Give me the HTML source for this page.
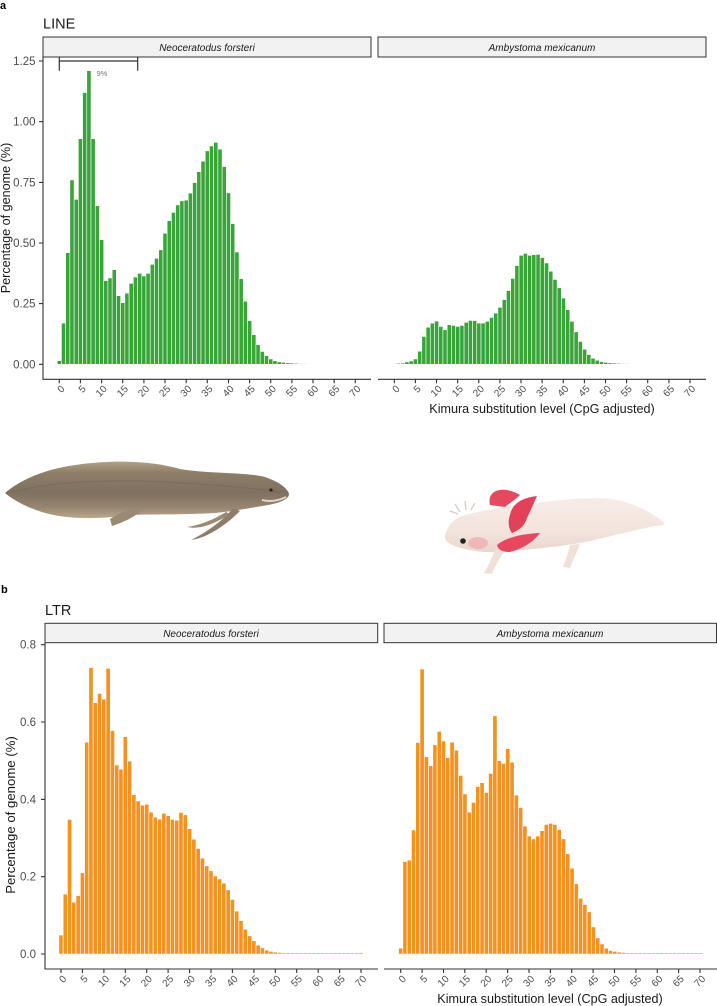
<!DOCTYPE html>
<html><head><meta charset="utf-8"><style>
html,body{margin:0;padding:0;background:#fff;}
body{width:717px;height:1006px;overflow:hidden;}
svg{display:block;font-family:"Liberation Sans",Arial,sans-serif;}
.g rect{fill:#38a538;stroke:#fff;stroke-width:0.6;}
.o rect{fill:#f5921f;stroke:#fff;stroke-width:0.6;}
.tl{font-size:10px;fill:#4d4d4d;text-anchor:end;}
.yl{font-size:11.5px;fill:#4d4d4d;text-anchor:end;}
.ax{stroke:#333;stroke-width:1.1;fill:none;}
.st{fill:#f2f2f2;stroke:#333;stroke-width:1;}
.sx{font-size:10px;font-style:italic;fill:#1a1a1a;text-anchor:middle;}
</style></head><body>
<svg width="717" height="1006" viewBox="0 0 717 1006" xmlns="http://www.w3.org/2000/svg">
<defs>
<linearGradient id="fishg" x1="0" y1="0" x2="0" y2="1">
<stop offset="0" stop-color="#b09f84"/><stop offset="0.2" stop-color="#8e7e69"/><stop offset="0.55" stop-color="#7f7160"/><stop offset="0.8" stop-color="#958470"/><stop offset="1" stop-color="#b9a88b"/>
</linearGradient>
<linearGradient id="axg" x1="0" y1="0" x2="0" y2="1">
<stop offset="0" stop-color="#f6ece7"/><stop offset="0.6" stop-color="#f3e4dd"/><stop offset="1" stop-color="#e9d6cd"/>
</linearGradient>
</defs>

<!-- ===== Panel a ===== -->
<text x="0" y="9" font-size="11" font-weight="bold" fill="#000">a</text>
<text x="43" y="28.3" font-size="14.5" fill="#1a1a1a">LINE</text>

<rect class="st" x="43" y="37" width="328" height="20"/>
<text class="sx" x="207" y="51">Neoceratodus forsteri</text>
<rect class="st" x="378" y="37" width="328" height="20"/>
<text class="sx" x="542" y="51">Ambystoma mexicanum</text>

<!-- y axis top -->
<path class="ax" d="M43,57V379.3H371M378,379.3H706"/>
<path class="ax" d="M39,364.3H43M39,303.6H43M39,243H43M39,182.4H43M39,121.7H43M39,61H43"/>
<g class="yl">
<text x="35.5" y="368.3">0.00</text>
<text x="35.5" y="307.6">0.25</text>
<text x="35.5" y="247">0.50</text>
<text x="35.5" y="186.4">0.75</text>
<text x="35.5" y="125.7">1.00</text>
<text x="35.5" y="65">1.25</text>
</g>
<text transform="translate(10,218) rotate(-90)" font-size="12.6" fill="#1a1a1a" text-anchor="middle">Percentage of genome (%)</text>

<!-- scale bar -->
<path d="M59.3,61H137.7M59.3,57V70.7M137.7,57V70.7" stroke="#333" stroke-width="1.2" fill="none"/>
<text x="96.5" y="76" font-size="7.5" fill="#777">9%</text>

<!-- LINE N bars -->
<g class="g" transform="translate(57.19,364.3) scale(4.229,-242.6)">
<g style="vector-effect:non-scaling-stroke">
<rect x="0" width="1" height="0.015" vector-effect="non-scaling-stroke"/>
<rect x="1" width="1" height="0.17" vector-effect="non-scaling-stroke"/>
<rect x="2" width="1" height="0.46" vector-effect="non-scaling-stroke"/>
<rect x="3" width="1" height="0.76" vector-effect="non-scaling-stroke"/>
<rect x="4" width="1" height="0.68" vector-effect="non-scaling-stroke"/>
<rect x="5" width="1" height="0.93" vector-effect="non-scaling-stroke"/>
<rect x="6" width="1" height="1.12" vector-effect="non-scaling-stroke"/>
<rect x="7" width="1" height="1.21" vector-effect="non-scaling-stroke"/>
<rect x="8" width="1" height="0.93" vector-effect="non-scaling-stroke"/>
<rect x="9" width="1" height="0.654" vector-effect="non-scaling-stroke"/>
<rect x="10" width="1" height="0.514" vector-effect="non-scaling-stroke"/>
<rect x="11" width="1" height="0.345" vector-effect="non-scaling-stroke"/>
<rect x="12" width="1" height="0.356" vector-effect="non-scaling-stroke"/>
<rect x="13" width="1" height="0.39" vector-effect="non-scaling-stroke"/>
<rect x="14" width="1" height="0.283" vector-effect="non-scaling-stroke"/>
<rect x="15" width="1" height="0.254" vector-effect="non-scaling-stroke"/>
<rect x="16" width="1" height="0.293" vector-effect="non-scaling-stroke"/>
<rect x="17" width="1" height="0.334" vector-effect="non-scaling-stroke"/>
<rect x="18" width="1" height="0.36" vector-effect="non-scaling-stroke"/>
<rect x="19" width="1" height="0.375" vector-effect="non-scaling-stroke"/>
<rect x="20" width="1" height="0.364" vector-effect="non-scaling-stroke"/>
<rect x="21" width="1" height="0.375" vector-effect="non-scaling-stroke"/>
<rect x="22" width="1" height="0.412" vector-effect="non-scaling-stroke"/>
<rect x="23" width="1" height="0.437" vector-effect="non-scaling-stroke"/>
<rect x="24" width="1" height="0.472" vector-effect="non-scaling-stroke"/>
<rect x="25" width="1" height="0.54" vector-effect="non-scaling-stroke"/>
<rect x="26" width="1" height="0.592" vector-effect="non-scaling-stroke"/>
<rect x="27" width="1" height="0.626" vector-effect="non-scaling-stroke"/>
<rect x="28" width="1" height="0.657" vector-effect="non-scaling-stroke"/>
<rect x="29" width="1" height="0.674" vector-effect="non-scaling-stroke"/>
<rect x="30" width="1" height="0.677" vector-effect="non-scaling-stroke"/>
<rect x="31" width="1" height="0.706" vector-effect="non-scaling-stroke"/>
<rect x="32" width="1" height="0.749" vector-effect="non-scaling-stroke"/>
<rect x="33" width="1" height="0.794" vector-effect="non-scaling-stroke"/>
<rect x="34" width="1" height="0.837" vector-effect="non-scaling-stroke"/>
<rect x="35" width="1" height="0.88" vector-effect="non-scaling-stroke"/>
<rect x="36" width="1" height="0.90" vector-effect="non-scaling-stroke"/>
<rect x="37" width="1" height="0.915" vector-effect="non-scaling-stroke"/>
<rect x="38" width="1" height="0.887" vector-effect="non-scaling-stroke"/>
<rect x="39" width="1" height="0.815" vector-effect="non-scaling-stroke"/>
<rect x="40" width="1" height="0.707" vector-effect="non-scaling-stroke"/>
<rect x="41" width="1" height="0.58" vector-effect="non-scaling-stroke"/>
<rect x="42" width="1" height="0.463" vector-effect="non-scaling-stroke"/>
<rect x="43" width="1" height="0.353" vector-effect="non-scaling-stroke"/>
<rect x="44" width="1" height="0.26" vector-effect="non-scaling-stroke"/>
<rect x="45" width="1" height="0.18" vector-effect="non-scaling-stroke"/>
<rect x="46" width="1" height="0.122" vector-effect="non-scaling-stroke"/>
<rect x="47" width="1" height="0.081" vector-effect="non-scaling-stroke"/>
<rect x="48" width="1" height="0.053" vector-effect="non-scaling-stroke"/>
<rect x="49" width="1" height="0.036" vector-effect="non-scaling-stroke"/>
<rect x="50" width="1" height="0.022" vector-effect="non-scaling-stroke"/>
<rect x="51" width="1" height="0.015" vector-effect="non-scaling-stroke"/>
<rect x="52" width="1" height="0.010" vector-effect="non-scaling-stroke"/>
<rect x="53" width="1" height="0.008" vector-effect="non-scaling-stroke"/>
<rect x="54" width="1" height="0.006" vector-effect="non-scaling-stroke"/>
<rect x="55" width="1" height="0.005" vector-effect="non-scaling-stroke"/>
<rect x="56" width="1" height="0.004" vector-effect="non-scaling-stroke"/>
<rect x="57" width="1" height="0.003" vector-effect="non-scaling-stroke"/>
<rect x="58" width="1" height="0.003" vector-effect="non-scaling-stroke"/>
<rect x="59" width="1" height="0.002" vector-effect="non-scaling-stroke"/>
<rect x="60" width="1" height="0.002" vector-effect="non-scaling-stroke"/>
<rect x="61" width="1" height="0.002" vector-effect="non-scaling-stroke"/>
<rect x="62" width="1" height="0.002" vector-effect="non-scaling-stroke"/>
</g>
</g>

<!-- LINE A bars -->
<g class="g" transform="translate(392.19,364.3) scale(4.229,-242.6)">
<rect x="0" width="1" height="0.003" vector-effect="non-scaling-stroke"/>
<rect x="1" width="1" height="0.004" vector-effect="non-scaling-stroke"/>
<rect x="2" width="1" height="0.005" vector-effect="non-scaling-stroke"/>
<rect x="3" width="1" height="0.010" vector-effect="non-scaling-stroke"/>
<rect x="4" width="1" height="0.014" vector-effect="non-scaling-stroke"/>
<rect x="5" width="1" height="0.022" vector-effect="non-scaling-stroke"/>
<rect x="6" width="1" height="0.054" vector-effect="non-scaling-stroke"/>
<rect x="7" width="1" height="0.115" vector-effect="non-scaling-stroke"/>
<rect x="8" width="1" height="0.153" vector-effect="non-scaling-stroke"/>
<rect x="9" width="1" height="0.17" vector-effect="non-scaling-stroke"/>
<rect x="10" width="1" height="0.178" vector-effect="non-scaling-stroke"/>
<rect x="11" width="1" height="0.156" vector-effect="non-scaling-stroke"/>
<rect x="12" width="1" height="0.142" vector-effect="non-scaling-stroke"/>
<rect x="13" width="1" height="0.163" vector-effect="non-scaling-stroke"/>
<rect x="14" width="1" height="0.16" vector-effect="non-scaling-stroke"/>
<rect x="15" width="1" height="0.156" vector-effect="non-scaling-stroke"/>
<rect x="16" width="1" height="0.16" vector-effect="non-scaling-stroke"/>
<rect x="17" width="1" height="0.173" vector-effect="non-scaling-stroke"/>
<rect x="18" width="1" height="0.181" vector-effect="non-scaling-stroke"/>
<rect x="19" width="1" height="0.18" vector-effect="non-scaling-stroke"/>
<rect x="20" width="1" height="0.17" vector-effect="non-scaling-stroke"/>
<rect x="21" width="1" height="0.17" vector-effect="non-scaling-stroke"/>
<rect x="22" width="1" height="0.177" vector-effect="non-scaling-stroke"/>
<rect x="23" width="1" height="0.193" vector-effect="non-scaling-stroke"/>
<rect x="24" width="1" height="0.211" vector-effect="non-scaling-stroke"/>
<rect x="25" width="1" height="0.235" vector-effect="non-scaling-stroke"/>
<rect x="26" width="1" height="0.267" vector-effect="non-scaling-stroke"/>
<rect x="27" width="1" height="0.304" vector-effect="non-scaling-stroke"/>
<rect x="28" width="1" height="0.354" vector-effect="non-scaling-stroke"/>
<rect x="29" width="1" height="0.407" vector-effect="non-scaling-stroke"/>
<rect x="30" width="1" height="0.449" vector-effect="non-scaling-stroke"/>
<rect x="31" width="1" height="0.457" vector-effect="non-scaling-stroke"/>
<rect x="32" width="1" height="0.449" vector-effect="non-scaling-stroke"/>
<rect x="33" width="1" height="0.452" vector-effect="non-scaling-stroke"/>
<rect x="34" width="1" height="0.453" vector-effect="non-scaling-stroke"/>
<rect x="35" width="1" height="0.44" vector-effect="non-scaling-stroke"/>
<rect x="36" width="1" height="0.418" vector-effect="non-scaling-stroke"/>
<rect x="37" width="1" height="0.384" vector-effect="non-scaling-stroke"/>
<rect x="38" width="1" height="0.35" vector-effect="non-scaling-stroke"/>
<rect x="39" width="1" height="0.315" vector-effect="non-scaling-stroke"/>
<rect x="40" width="1" height="0.273" vector-effect="non-scaling-stroke"/>
<rect x="41" width="1" height="0.225" vector-effect="non-scaling-stroke"/>
<rect x="42" width="1" height="0.177" vector-effect="non-scaling-stroke"/>
<rect x="43" width="1" height="0.134" vector-effect="non-scaling-stroke"/>
<rect x="44" width="1" height="0.094" vector-effect="non-scaling-stroke"/>
<rect x="45" width="1" height="0.062" vector-effect="non-scaling-stroke"/>
<rect x="46" width="1" height="0.040" vector-effect="non-scaling-stroke"/>
<rect x="47" width="1" height="0.025" vector-effect="non-scaling-stroke"/>
<rect x="48" width="1" height="0.017" vector-effect="non-scaling-stroke"/>
<rect x="49" width="1" height="0.011" vector-effect="non-scaling-stroke"/>
<rect x="50" width="1" height="0.008" vector-effect="non-scaling-stroke"/>
<rect x="51" width="1" height="0.006" vector-effect="non-scaling-stroke"/>
<rect x="52" width="1" height="0.005" vector-effect="non-scaling-stroke"/>
<rect x="53" width="1" height="0.004" vector-effect="non-scaling-stroke"/>
<rect x="54" width="1" height="0.003" vector-effect="non-scaling-stroke"/>
<rect x="55" width="1" height="0.003" vector-effect="non-scaling-stroke"/>
<rect x="56" width="1" height="0.002" vector-effect="non-scaling-stroke"/>
</g>

<!-- top x ticks -->
<path class="ax" d="M59.3,379.3v4M80.4,379.3v4M101.6,379.3v4M122.7,379.3v4M143.9,379.3v4M165,379.3v4M186.2,379.3v4M207.3,379.3v4M228.5,379.3v4M249.6,379.3v4M270.7,379.3v4M291.9,379.3v4M313,379.3v4M334.2,379.3v4M355.3,379.3v4
M394.3,379.3v4M415.4,379.3v4M436.5,379.3v4M457.7,379.3v4M478.8,379.3v4M499.9,379.3v4M521,379.3v4M542.1,379.3v4M563.3,379.3v4M584.4,379.3v4M605.5,379.3v4M626.6,379.3v4M647.7,379.3v4M668.9,379.3v4M690,379.3v4"/>
<g class="tl">
<text transform="translate(65.3,389.5) rotate(-45)">0</text>
<text transform="translate(86.4,389.5) rotate(-45)">5</text>
<text transform="translate(107.6,389.5) rotate(-45)">10</text>
<text transform="translate(128.7,389.5) rotate(-45)">15</text>
<text transform="translate(149.9,389.5) rotate(-45)">20</text>
<text transform="translate(171,389.5) rotate(-45)">25</text>
<text transform="translate(192.2,389.5) rotate(-45)">30</text>
<text transform="translate(213.3,389.5) rotate(-45)">35</text>
<text transform="translate(234.5,389.5) rotate(-45)">40</text>
<text transform="translate(255.6,389.5) rotate(-45)">45</text>
<text transform="translate(276.7,389.5) rotate(-45)">50</text>
<text transform="translate(297.9,389.5) rotate(-45)">55</text>
<text transform="translate(319,389.5) rotate(-45)">60</text>
<text transform="translate(340.2,389.5) rotate(-45)">65</text>
<text transform="translate(361.3,389.5) rotate(-45)">70</text>
<text transform="translate(400.3,389.5) rotate(-45)">0</text>
<text transform="translate(421.4,389.5) rotate(-45)">5</text>
<text transform="translate(442.5,389.5) rotate(-45)">10</text>
<text transform="translate(463.7,389.5) rotate(-45)">15</text>
<text transform="translate(484.8,389.5) rotate(-45)">20</text>
<text transform="translate(505.9,389.5) rotate(-45)">25</text>
<text transform="translate(527,389.5) rotate(-45)">30</text>
<text transform="translate(548.1,389.5) rotate(-45)">35</text>
<text transform="translate(569.3,389.5) rotate(-45)">40</text>
<text transform="translate(590.4,389.5) rotate(-45)">45</text>
<text transform="translate(611.5,389.5) rotate(-45)">50</text>
<text transform="translate(632.6,389.5) rotate(-45)">55</text>
<text transform="translate(653.7,389.5) rotate(-45)">60</text>
<text transform="translate(674.9,389.5) rotate(-45)">65</text>
<text transform="translate(696,389.5) rotate(-45)">70</text>
</g>
<text x="542" y="413" font-size="12.6" fill="#1a1a1a" text-anchor="middle">Kimura substitution level (CpG adjusted)</text>

<!-- Lungfish -->
<g>
<path d="M5,493 C20,480 45,469 75,465 C110,460 150,460 180,469 C210,474 245,472 265,477 C280,482 288,489 289,494 C289,499 280,503 268,505 C250,508 235,511 215,513 C180,515 150,514 130,515 C105,519 70,520 45,513 C25,507 12,499 5,493 Z" fill="url(#fishg)"/>
<path d="M12,492 C40,484 90,480 140,481 C190,483 240,486 280,492" stroke="#6f6253" stroke-width="1" fill="none" opacity="0.5"/>
<path d="M110,519 C120,512 132,508 143,509 C136,516 125,522 112,526 Z" fill="#9a8a74"/>
<path d="M233,508 C224,520 207,532 191,540 C206,538 224,527 240,511 Z" fill="#8d7d69"/>
<path d="M226,512 C213,520 200,525 187,527 C201,530 216,523 230,514 Z" fill="#9b8b75"/>
<path d="M262,500 C270,502 278,501 286,497" stroke="#e0d6c6" stroke-width="2" fill="none"/>
<circle cx="271" cy="490" r="1.6" fill="#2a241e"/>
</g>

<!-- Axolotl -->
<g>
<path d="M445,537 C446,528 452,520 462,516 C475,512 495,508 520,505 C550,501 575,498 600,498 C625,499 645,508 662,521 C666,524 664,526 655,526 C635,530 615,535 590,541 C565,546 545,548 520,550 C500,553 480,553 465,549 C452,546 445,542 445,537 Z" fill="url(#axg)"/>
<path d="M495,550 C492,558 488,566 484,573 L492,574 C495,566 500,558 505,550 Z" fill="#efe0d9"/>
<path d="M570,545 C568,553 566,560 563,567 L570,568 C573,560 577,552 580,544 Z" fill="#efe0d9"/>
<path d="M460,512 L455,504 M466,510 L465,501 M471,510 L475,503 M458,514 L450,511" stroke="#d9ccc6" stroke-width="1.3"/>
<ellipse cx="478" cy="543" rx="10" ry="6" fill="#f0a0a5" opacity="0.6"/>
<path d="M490,505 C488,497 492,491 500,490 C508,489 515,492 520,495 C516,499 510,503 505,507 Z" fill="#e6485f"/>
<path d="M510,515 C512,505 520,498 537,496 C533,505 530,512 527,518 C525,525 520,530 512,533 C508,528 508,520 510,515 Z" fill="#e4405a"/>
<path d="M497,545 C505,538 520,534 540,533 C535,540 525,548 510,552 C503,552 498,550 497,545 Z" fill="#e8485f"/>
<circle cx="463" cy="541" r="2.8" fill="#222"/>
</g>

<!-- ===== Panel b ===== -->
<text x="1" y="593" font-size="11" font-weight="bold" fill="#000">b</text>
<text x="45" y="615" font-size="14.5" fill="#1a1a1a">LTR</text>

<rect class="st" x="45" y="623.3" width="332.7" height="19.4"/>
<text class="sx" x="211" y="637">Neoceratodus forsteri</text>
<rect class="st" x="384" y="623.3" width="332.5" height="19.4"/>
<text class="sx" x="550" y="637">Ambystoma mexicanum</text>

<path class="ax" d="M45,642.7V969H378M384,969H717"/>
<path class="ax" d="M41,954H45M41,876.7H45M41,799.4H45M41,722H45M41,644.7H45"/>
<g class="yl">
<text x="36" y="958">0.0</text>
<text x="36" y="880.7">0.2</text>
<text x="36" y="803.4">0.4</text>
<text x="36" y="726">0.6</text>
<text x="36" y="648.7">0.8</text>
</g>
<text transform="translate(15,815) rotate(-90)" font-size="13.2" fill="#1a1a1a" text-anchor="middle">Percentage of genome (%)</text>

<!-- LTR N bars -->
<g class="o" transform="translate(58.86,954) scale(4.286,-386.6)">
<rect x="0" width="1" height="0.049" vector-effect="non-scaling-stroke"/>
<rect x="1" width="1" height="0.155" vector-effect="non-scaling-stroke"/>
<rect x="2" width="1" height="0.348" vector-effect="non-scaling-stroke"/>
<rect x="3" width="1" height="0.134" vector-effect="non-scaling-stroke"/>
<rect x="4" width="1" height="0.151" vector-effect="non-scaling-stroke"/>
<rect x="5" width="1" height="0.21" vector-effect="non-scaling-stroke"/>
<rect x="6" width="1" height="0.548" vector-effect="non-scaling-stroke"/>
<rect x="7" width="1" height="0.741" vector-effect="non-scaling-stroke"/>
<rect x="8" width="1" height="0.65" vector-effect="non-scaling-stroke"/>
<rect x="9" width="1" height="0.674" vector-effect="non-scaling-stroke"/>
<rect x="10" width="1" height="0.659" vector-effect="non-scaling-stroke"/>
<rect x="11" width="1" height="0.739" vector-effect="non-scaling-stroke"/>
<rect x="12" width="1" height="0.578" vector-effect="non-scaling-stroke"/>
<rect x="13" width="1" height="0.489" vector-effect="non-scaling-stroke"/>
<rect x="14" width="1" height="0.478" vector-effect="non-scaling-stroke"/>
<rect x="15" width="1" height="0.562" vector-effect="non-scaling-stroke"/>
<rect x="16" width="1" height="0.499" vector-effect="non-scaling-stroke"/>
<rect x="17" width="1" height="0.412" vector-effect="non-scaling-stroke"/>
<rect x="18" width="1" height="0.396" vector-effect="non-scaling-stroke"/>
<rect x="19" width="1" height="0.385" vector-effect="non-scaling-stroke"/>
<rect x="20" width="1" height="0.387" vector-effect="non-scaling-stroke"/>
<rect x="21" width="1" height="0.367" vector-effect="non-scaling-stroke"/>
<rect x="22" width="1" height="0.354" vector-effect="non-scaling-stroke"/>
<rect x="23" width="1" height="0.349" vector-effect="non-scaling-stroke"/>
<rect x="24" width="1" height="0.364" vector-effect="non-scaling-stroke"/>
<rect x="25" width="1" height="0.358" vector-effect="non-scaling-stroke"/>
<rect x="26" width="1" height="0.348" vector-effect="non-scaling-stroke"/>
<rect x="27" width="1" height="0.346" vector-effect="non-scaling-stroke"/>
<rect x="28" width="1" height="0.366" vector-effect="non-scaling-stroke"/>
<rect x="29" width="1" height="0.36" vector-effect="non-scaling-stroke"/>
<rect x="30" width="1" height="0.324" vector-effect="non-scaling-stroke"/>
<rect x="31" width="1" height="0.297" vector-effect="non-scaling-stroke"/>
<rect x="32" width="1" height="0.273" vector-effect="non-scaling-stroke"/>
<rect x="33" width="1" height="0.248" vector-effect="non-scaling-stroke"/>
<rect x="34" width="1" height="0.228" vector-effect="non-scaling-stroke"/>
<rect x="35" width="1" height="0.215" vector-effect="non-scaling-stroke"/>
<rect x="36" width="1" height="0.202" vector-effect="non-scaling-stroke"/>
<rect x="37" width="1" height="0.194" vector-effect="non-scaling-stroke"/>
<rect x="38" width="1" height="0.183" vector-effect="non-scaling-stroke"/>
<rect x="39" width="1" height="0.166" vector-effect="non-scaling-stroke"/>
<rect x="40" width="1" height="0.141" vector-effect="non-scaling-stroke"/>
<rect x="41" width="1" height="0.111" vector-effect="non-scaling-stroke"/>
<rect x="42" width="1" height="0.086" vector-effect="non-scaling-stroke"/>
<rect x="43" width="1" height="0.064" vector-effect="non-scaling-stroke"/>
<rect x="44" width="1" height="0.047" vector-effect="non-scaling-stroke"/>
<rect x="45" width="1" height="0.034" vector-effect="non-scaling-stroke"/>
<rect x="46" width="1" height="0.023" vector-effect="non-scaling-stroke"/>
<rect x="47" width="1" height="0.016" vector-effect="non-scaling-stroke"/>
<rect x="48" width="1" height="0.010" vector-effect="non-scaling-stroke"/>
<rect x="49" width="1" height="0.007" vector-effect="non-scaling-stroke"/>
<rect x="50" width="1" height="0.005" vector-effect="non-scaling-stroke"/>
<rect x="51" width="1" height="0.004" vector-effect="non-scaling-stroke"/>
<rect x="52" width="1" height="0.003" vector-effect="non-scaling-stroke"/>
<rect x="53" width="1" height="0.003" vector-effect="non-scaling-stroke"/>
<rect x="54" width="1" height="0.003" vector-effect="non-scaling-stroke"/>
<rect x="55" width="1" height="0.003" vector-effect="non-scaling-stroke"/>
<rect x="56" width="1" height="0.003" vector-effect="non-scaling-stroke"/>
<rect x="57" width="1" height="0.003" vector-effect="non-scaling-stroke"/>
<rect x="58" width="1" height="0.003" vector-effect="non-scaling-stroke"/>
<rect x="59" width="1" height="0.003" vector-effect="non-scaling-stroke"/>
<rect x="60" width="1" height="0.003" vector-effect="non-scaling-stroke"/>
<rect x="61" width="1" height="0.003" vector-effect="non-scaling-stroke"/>
<rect x="62" width="1" height="0.003" vector-effect="non-scaling-stroke"/>
<rect x="63" width="1" height="0.003" vector-effect="non-scaling-stroke"/>
<rect x="64" width="1" height="0.003" vector-effect="non-scaling-stroke"/>
<rect x="65" width="1" height="0.003" vector-effect="non-scaling-stroke"/>
<rect x="66" width="1" height="0.003" vector-effect="non-scaling-stroke"/>
<rect x="67" width="1" height="0.003" vector-effect="non-scaling-stroke"/>
<rect x="68" width="1" height="0.003" vector-effect="non-scaling-stroke"/>
<rect x="69" width="1" height="0.003" vector-effect="non-scaling-stroke"/>
<rect x="70" width="1" height="0.003" vector-effect="non-scaling-stroke"/>
</g>

<!-- LTR A bars -->
<g class="o" transform="translate(398.56,954) scale(4.283,-386.6)">
<rect x="0" width="1" height="0.015" vector-effect="non-scaling-stroke"/>
<rect x="1" width="1" height="0.239" vector-effect="non-scaling-stroke"/>
<rect x="2" width="1" height="0.243" vector-effect="non-scaling-stroke"/>
<rect x="3" width="1" height="0.321" vector-effect="non-scaling-stroke"/>
<rect x="4" width="1" height="0.547" vector-effect="non-scaling-stroke"/>
<rect x="5" width="1" height="0.737" vector-effect="non-scaling-stroke"/>
<rect x="6" width="1" height="0.51" vector-effect="non-scaling-stroke"/>
<rect x="7" width="1" height="0.487" vector-effect="non-scaling-stroke"/>
<rect x="8" width="1" height="0.541" vector-effect="non-scaling-stroke"/>
<rect x="9" width="1" height="0.576" vector-effect="non-scaling-stroke"/>
<rect x="10" width="1" height="0.551" vector-effect="non-scaling-stroke"/>
<rect x="11" width="1" height="0.508" vector-effect="non-scaling-stroke"/>
<rect x="12" width="1" height="0.548" vector-effect="non-scaling-stroke"/>
<rect x="13" width="1" height="0.527" vector-effect="non-scaling-stroke"/>
<rect x="14" width="1" height="0.462" vector-effect="non-scaling-stroke"/>
<rect x="15" width="1" height="0.414" vector-effect="non-scaling-stroke"/>
<rect x="16" width="1" height="0.367" vector-effect="non-scaling-stroke"/>
<rect x="17" width="1" height="0.392" vector-effect="non-scaling-stroke"/>
<rect x="18" width="1" height="0.433" vector-effect="non-scaling-stroke"/>
<rect x="19" width="1" height="0.443" vector-effect="non-scaling-stroke"/>
<rect x="20" width="1" height="0.418" vector-effect="non-scaling-stroke"/>
<rect x="21" width="1" height="0.467" vector-effect="non-scaling-stroke"/>
<rect x="22" width="1" height="0.616" vector-effect="non-scaling-stroke"/>
<rect x="23" width="1" height="0.5" vector-effect="non-scaling-stroke"/>
<rect x="24" width="1" height="0.493" vector-effect="non-scaling-stroke"/>
<rect x="25" width="1" height="0.531" vector-effect="non-scaling-stroke"/>
<rect x="26" width="1" height="0.496" vector-effect="non-scaling-stroke"/>
<rect x="27" width="1" height="0.411" vector-effect="non-scaling-stroke"/>
<rect x="28" width="1" height="0.379" vector-effect="non-scaling-stroke"/>
<rect x="29" width="1" height="0.331" vector-effect="non-scaling-stroke"/>
<rect x="30" width="1" height="0.305" vector-effect="non-scaling-stroke"/>
<rect x="31" width="1" height="0.298" vector-effect="non-scaling-stroke"/>
<rect x="32" width="1" height="0.305" vector-effect="non-scaling-stroke"/>
<rect x="33" width="1" height="0.319" vector-effect="non-scaling-stroke"/>
<rect x="34" width="1" height="0.335" vector-effect="non-scaling-stroke"/>
<rect x="35" width="1" height="0.338" vector-effect="non-scaling-stroke"/>
<rect x="36" width="1" height="0.335" vector-effect="non-scaling-stroke"/>
<rect x="37" width="1" height="0.322" vector-effect="non-scaling-stroke"/>
<rect x="38" width="1" height="0.298" vector-effect="non-scaling-stroke"/>
<rect x="39" width="1" height="0.259" vector-effect="non-scaling-stroke"/>
<rect x="40" width="1" height="0.222" vector-effect="non-scaling-stroke"/>
<rect x="41" width="1" height="0.182" vector-effect="non-scaling-stroke"/>
<rect x="42" width="1" height="0.144" vector-effect="non-scaling-stroke"/>
<rect x="43" width="1" height="0.128" vector-effect="non-scaling-stroke"/>
<rect x="44" width="1" height="0.109" vector-effect="non-scaling-stroke"/>
<rect x="45" width="1" height="0.07" vector-effect="non-scaling-stroke"/>
<rect x="46" width="1" height="0.042" vector-effect="non-scaling-stroke"/>
<rect x="47" width="1" height="0.026" vector-effect="non-scaling-stroke"/>
<rect x="48" width="1" height="0.015" vector-effect="non-scaling-stroke"/>
<rect x="49" width="1" height="0.009" vector-effect="non-scaling-stroke"/>
<rect x="50" width="1" height="0.007" vector-effect="non-scaling-stroke"/>
<rect x="51" width="1" height="0.005" vector-effect="non-scaling-stroke"/>
<rect x="52" width="1" height="0.004" vector-effect="non-scaling-stroke"/>
<rect x="53" width="1" height="0.003" vector-effect="non-scaling-stroke"/>
<rect x="54" width="1" height="0.003" vector-effect="non-scaling-stroke"/>
<rect x="55" width="1" height="0.003" vector-effect="non-scaling-stroke"/>
<rect x="56" width="1" height="0.003" vector-effect="non-scaling-stroke"/>
<rect x="57" width="1" height="0.003" vector-effect="non-scaling-stroke"/>
<rect x="58" width="1" height="0.003" vector-effect="non-scaling-stroke"/>
<rect x="59" width="1" height="0.003" vector-effect="non-scaling-stroke"/>
<rect x="60" width="1" height="0.003" vector-effect="non-scaling-stroke"/>
<rect x="61" width="1" height="0.003" vector-effect="non-scaling-stroke"/>
<rect x="62" width="1" height="0.003" vector-effect="non-scaling-stroke"/>
<rect x="63" width="1" height="0.003" vector-effect="non-scaling-stroke"/>
<rect x="64" width="1" height="0.003" vector-effect="non-scaling-stroke"/>
<rect x="65" width="1" height="0.003" vector-effect="non-scaling-stroke"/>
<rect x="66" width="1" height="0.003" vector-effect="non-scaling-stroke"/>
<rect x="67" width="1" height="0.003" vector-effect="non-scaling-stroke"/>
<rect x="68" width="1" height="0.003" vector-effect="non-scaling-stroke"/>
<rect x="69" width="1" height="0.003" vector-effect="non-scaling-stroke"/>
<rect x="70" width="1" height="0.003" vector-effect="non-scaling-stroke"/>
</g>

<!-- bottom x ticks -->
<path class="ax" d="M61,969v4M82.4,969v4M103.9,969v4M125.3,969v4M146.7,969v4M168.1,969v4M189.6,969v4M211,969v4M232.4,969v4M253.9,969v4M275.3,969v4M296.7,969v4M318.2,969v4M339.6,969v4M361,969v4
M400.7,969v4M422.1,969v4M443.5,969v4M464.8,969v4M486.2,969v4M507.6,969v4M529,969v4M550.4,969v4M571.7,969v4M593.1,969v4M614.5,969v4M635.9,969v4M657.3,969v4M678.6,969v4M700,969v4"/>
<g class="tl">
<text transform="translate(67,979.5) rotate(-45)">0</text>
<text transform="translate(88.4,979.5) rotate(-45)">5</text>
<text transform="translate(109.9,979.5) rotate(-45)">10</text>
<text transform="translate(131.3,979.5) rotate(-45)">15</text>
<text transform="translate(152.7,979.5) rotate(-45)">20</text>
<text transform="translate(174.1,979.5) rotate(-45)">25</text>
<text transform="translate(195.6,979.5) rotate(-45)">30</text>
<text transform="translate(217,979.5) rotate(-45)">35</text>
<text transform="translate(238.4,979.5) rotate(-45)">40</text>
<text transform="translate(259.9,979.5) rotate(-45)">45</text>
<text transform="translate(281.3,979.5) rotate(-45)">50</text>
<text transform="translate(302.7,979.5) rotate(-45)">55</text>
<text transform="translate(324.2,979.5) rotate(-45)">60</text>
<text transform="translate(345.6,979.5) rotate(-45)">65</text>
<text transform="translate(367,979.5) rotate(-45)">70</text>
<text transform="translate(406.7,979.5) rotate(-45)">0</text>
<text transform="translate(428.1,979.5) rotate(-45)">5</text>
<text transform="translate(449.5,979.5) rotate(-45)">10</text>
<text transform="translate(470.8,979.5) rotate(-45)">15</text>
<text transform="translate(492.2,979.5) rotate(-45)">20</text>
<text transform="translate(513.6,979.5) rotate(-45)">25</text>
<text transform="translate(535,979.5) rotate(-45)">30</text>
<text transform="translate(556.4,979.5) rotate(-45)">35</text>
<text transform="translate(577.7,979.5) rotate(-45)">40</text>
<text transform="translate(599.1,979.5) rotate(-45)">45</text>
<text transform="translate(620.5,979.5) rotate(-45)">50</text>
<text transform="translate(641.9,979.5) rotate(-45)">55</text>
<text transform="translate(663.3,979.5) rotate(-45)">60</text>
<text transform="translate(684.6,979.5) rotate(-45)">65</text>
<text transform="translate(706,979.5) rotate(-45)">70</text>
</g>
<text x="550" y="1003" font-size="12.6" fill="#1a1a1a" text-anchor="middle">Kimura substitution level (CpG adjusted)</text>
</svg>
</body></html>
